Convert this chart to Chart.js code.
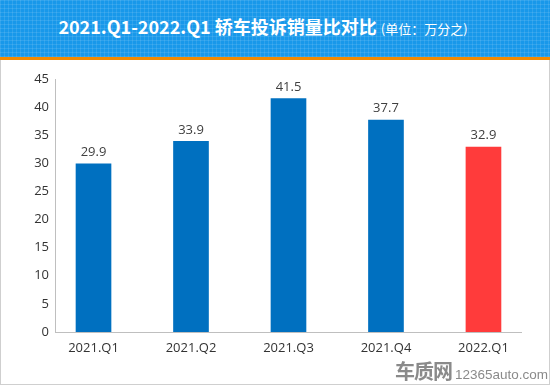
<!DOCTYPE html>
<html>
<head>
<meta charset="utf-8">
<script src="https://cdn.jsdelivr.net/npm/chart.js@4.4.1/dist/chart.umd.min.js"></script>
<style>
    html, body { margin: 0; padding: 0; width: 550px; height: 386px; overflow: hidden; background: #fff; }
    #frame { position: absolute; left: 0; top: 0; width: 548px; height: 384px; border: 1px solid #cfcfcf; border-top: none; }
    #banner {
        position: absolute; left: 0; top: 0; width: 550px; height: 57px;
        background-color: #1898ea;
        background-image:
            repeating-linear-gradient(0deg, rgba(255,255,255,0.10) 0 1px, transparent 1px 4px),
            repeating-linear-gradient(90deg, rgba(255,255,255,0.10) 0 1px, transparent 1px 4px);
        border-bottom: 3px solid #f28a00;
        color: #fff; text-align: center;
        font-family: "Noto Sans CJK SC", "Noto Sans", sans-serif;
    }
    #banner .main { position: relative; top: -2px; left: -12px; font-size: 18px; font-weight: bold; line-height: 57px; }
    #banner .unit { font-size: 13px; font-weight: normal; }
    #wrap { position: absolute; left: 2px; top: 60px; width: 546px; height: 324px; }
    #mark { position: absolute; left: 395px; top: 356px; color: #8a8a8a; white-space: nowrap; }
    #mark .logo { font-family: "Noto Sans CJK SC", sans-serif; font-size: 20px; font-weight: bold; letter-spacing: -1px; }
    #mark .site { font-family: "Liberation Sans", sans-serif; font-size: 13.5px; margin-left: 3px; }
</style>
</head>
<body>
<div id="frame"></div>
<div id="banner"><span class="main">2021.Q1-2022.Q1 轿车投诉销量比对比 <span class="unit">(单位：万分之)</span></span></div>
<div id="wrap"><canvas id="barChart"></canvas></div>
<div id="mark"><span class="logo">车质网</span><span class="site">12365auto.com</span></div>

<script>
const quarters = ['2021.Q1', '2021.Q2', '2021.Q3', '2021.Q4', '2022.Q1'];
const ratios = [29.9, 33.9, 41.5, 37.7, 32.9];
const barColors = ['#0070c0', '#0070c0', '#0070c0', '#0070c0', '#ff3b3b'];
const yTicks = [0, 5, 10, 15, 20, 25, 30, 35, 40, 45];

// values written over each bar
const valueLabels = {
    id: 'valueLabels',
    afterDatasetsDraw(chart) {
        const ctx = chart.ctx;
        const meta = chart.getDatasetMeta(0);
        ctx.save();
        ctx.font = '13px "Open Sans", "Noto Sans", sans-serif';
        ctx.fillStyle = '#404040';
        ctx.textAlign = 'center';
        ctx.textBaseline = 'bottom';
        meta.data.forEach((bar, i) => {
            ctx.fillText(ratios[i].toFixed(1), bar.x, bar.y - 5);
        });
        ctx.restore();
    }
};

var barCanvas = document.getElementById('barChart').getContext('2d');
var barData = {
    datasets: [
        {
            data: quarters.map((q, i) => ({x: i, y: ratios[i]})),
            backgroundColor: barColors,
            barThickness: 35,
        }
    ]
};
var barOptions = {
    responsive: false,
    animation: false,
    maintainAspectRatio: false,
    layout: { padding: { left: 23, right: 27, top: 19, bottom: 22 } },
    plugins: { legend: { display: false }, tooltip: { enabled: false } },
    scales: {
        x: {
            type: 'linear',
            offset: false,
            min: -0.395,
            max: 4.385,
            afterFit: (scale) => { scale.height = 30; },
            grid: { display: false, drawTicks: false, offset: false },
            border: { display: true, color: '#bfbfbf', width: 1 },
            ticks: {
                stepSize: 1,
                includeBounds: false,
                autoSkip: false,
                maxRotation: 0,
                padding: 8,
                color: '#333',
                font: { size: 13, family: '"Open Sans", "Noto Sans", sans-serif' },
                callback: (v) => Number.isInteger(v) && quarters[v] ? quarters[v] : ''
            }
        },
        y: {
            min: yTicks[0],
            max: yTicks[yTicks.length - 1],
            afterFit: (scale) => { scale.width = 30; },
            grid: { display: false, drawTicks: false },
            border: { display: true, color: '#bfbfbf', width: 1 },
            ticks: {
                stepSize: 5,
                padding: 6,
                color: '#333',
                font: { size: 13, family: '"Open Sans", "Noto Sans", sans-serif' }
            }
        }
    }
};
document.getElementById('barChart').width = 546;
document.getElementById('barChart').height = 324;
var barChart = new Chart(barCanvas, {
    type: 'bar',
    data: barData,
    options: barOptions,
    plugins: [valueLabels]
});
</script>
</body>
</html>
